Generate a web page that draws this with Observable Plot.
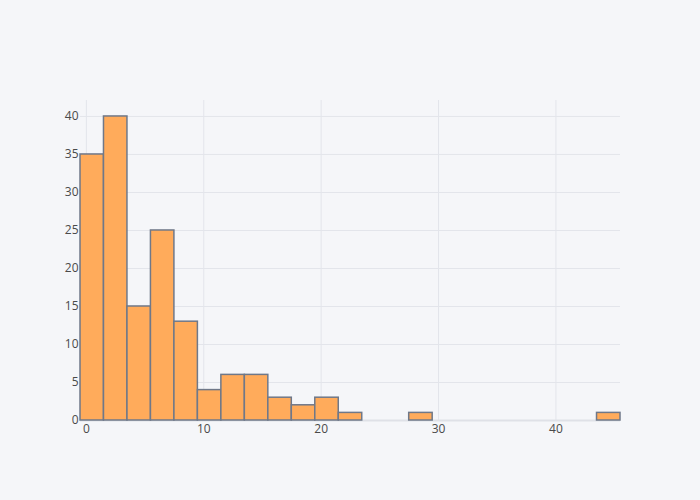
<!DOCTYPE html>
<html>
<head>
<meta charset="utf-8">
<script src="https://cdn.jsdelivr.net/npm/d3@7"></script>
<script src="https://cdn.jsdelivr.net/npm/@observablehq/plot@0.6"></script>
<style>
  html, body { margin: 0; padding: 0; background: #f5f6f9; }
  #chart { width: 700px; height: 500px; }
</style>
</head>
<body>
<div id="chart"></div>
<script>
const binStarts = [-0.5, 1.5, 3.5, 5.5, 7.5, 9.5, 11.5, 13.5, 15.5, 17.5, 19.5, 21.5, 27.5, 43.5];
const binWidth = 2;
const counts = [35, 40, 15, 25, 13, 4, 6, 6, 3, 2, 3, 1, 1, 1];
const xTicks = [0, 10, 20, 30, 40];
const yTicks = [0, 5, 10, 15, 20, 25, 30, 35, 40];

const bins = binStarts.map((s, i) => ({x1: s, x2: s + binWidth, count: counts[i]}));

const chart = Plot.plot({
  width: 700,
  height: 500,
  marginLeft: 80,
  marginRight: 80,
  marginTop: 100,
  marginBottom: 80,
  style: {background: "#f5f6f9", fontFamily: "'Open Sans', sans-serif", fontSize: "12px", color: "#444"},
  x: {domain: [-0.5, 45.5], ticks: xTicks, tickSize: 0, tickPadding: 6, label: null},
  y: {domain: [0, 42.1], ticks: yTicks, tickSize: 0, tickPadding: 6, label: null},
  marks: [
    Plot.gridX(xTicks, {stroke: "#e3e5eb", strokeOpacity: 1, strokeWidth: 1}),
    Plot.gridY(yTicks, {stroke: "#e3e5eb", strokeOpacity: 1, strokeWidth: 1}),
    Plot.ruleY([0], {stroke: "#dfe1e7", strokeWidth: 2}),
    Plot.rectY(bins, {x1: "x1", x2: "x2", y: "count", fill: "#ffab5b", stroke: "#6f7889", strokeWidth: 1.5, inset: 0}),
    Plot.axisX({ticks: xTicks, tickSize: 0, tickPadding: 4, fill: "#4a4a4a", fontSize: 12}),
    Plot.axisY({ticks: yTicks, tickSize: 0, tickPadding: 2, fill: "#4a4a4a", fontSize: 12})
  ]
});
document.getElementById("chart").appendChild(chart);
</script>
</body>
</html>
